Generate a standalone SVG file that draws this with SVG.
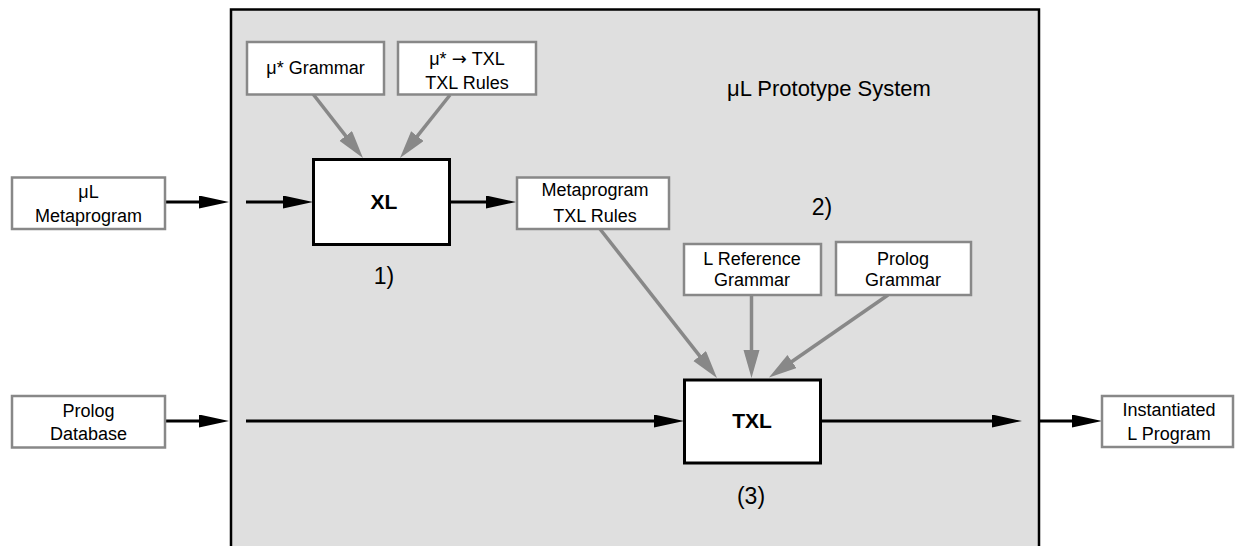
<svg xmlns="http://www.w3.org/2000/svg" width="1235" height="546" viewBox="0 0 1235 546">
<defs>
<style>
text{font-family:"Liberation Sans",Arial,sans-serif;fill:#000;text-anchor:middle}
.t{font-size:18px}
.b{font-size:21px;font-weight:bold}
.lbl{font-size:23px}
.arr{font-family:"DejaVu Sans",sans-serif}
.gbox{fill:#fff;stroke:#888;stroke-width:2.5}
.kbox{fill:#fff;stroke:#000;stroke-width:3}
.k{stroke:#000;stroke-width:3;fill:none}
.g{stroke:#888;stroke-width:3.5;fill:none}
</style>
<marker id="ak" markerUnits="userSpaceOnUse" markerWidth="31" markerHeight="14" refX="20" refY="6.5" orient="auto"><path d="M0,0 L30,6.5 L0,13 z" fill="#000"/></marker>
<marker id="ag" markerUnits="userSpaceOnUse" markerWidth="29" markerHeight="17" refX="18" refY="8" orient="auto"><path d="M0,0 L28,8 L0,16 z" fill="#888"/></marker>
</defs>
<rect id="system" x="231" y="9.5" width="808" height="560" fill="#dfdfdf" stroke="#000" stroke-width="2.5"/>
<text x="829" y="96" style="font-size:22px">μL Prototype System</text>
<text class="lbl" x="384" y="284">1)</text>
<text class="lbl" x="822" y="215">2)</text>
<text class="lbl" x="751" y="504">(3)</text>
<g id="connectors">
<line class="k" x1="165" y1="202" x2="219" y2="202" marker-end="url(#ak)"/>
<line class="k" x1="246" y1="202" x2="303" y2="202" marker-end="url(#ak)"/>
<line class="k" x1="450" y1="202" x2="506" y2="202" marker-end="url(#ak)"/>
<line class="g" x1="313" y1="94" x2="356.8" y2="150.1" marker-end="url(#ag)"/>
<line class="g" x1="450" y1="95" x2="406.2" y2="150.2" marker-end="url(#ag)"/>
<line class="g" x1="600" y1="229" x2="710.8" y2="370.1" marker-end="url(#ag)"/>
<line class="g" x1="751.5" y1="295" x2="751.5" y2="368" marker-end="url(#ag)"/>
<line class="g" x1="888" y1="295" x2="777.2" y2="371.7" marker-end="url(#ag)"/>
<line class="k" x1="165" y1="421" x2="219" y2="421" marker-end="url(#ak)"/>
<line class="k" x1="246" y1="421" x2="674" y2="421" marker-end="url(#ak)"/>
<line class="k" x1="816" y1="421" x2="1012" y2="421" marker-end="url(#ak)"/>
<line class="k" x1="1040" y1="421" x2="1092" y2="421" marker-end="url(#ak)"/>
</g>
<g id="mul-metaprogram">
<rect class="gbox" x="12" y="177.5" width="153" height="51.5"/>
<text class="t" x="88.5" y="198">μL</text>
<text class="t" x="88.5" y="222">Metaprogram</text>
</g>
<g id="prolog-database">
<rect class="gbox" x="12" y="396" width="153" height="51.5"/>
<text class="t" x="88.5" y="417">Prolog</text>
<text class="t" x="88.5" y="440">Database</text>
</g>
<g id="mu-grammar">
<rect class="gbox" x="247" y="42" width="137" height="52.5"/>
<text class="t" x="315.5" y="73.5">μ* Grammar</text>
</g>
<g id="mu-txl-rules">
<rect class="gbox" x="398" y="42" width="138" height="52.5"/>
<text class="t" x="467" y="65">μ* <tspan class="arr">→</tspan> TXL</text>
<text class="t" x="467" y="88.5">TXL Rules</text>
</g>
<g id="xl">
<rect class="kbox" x="313.5" y="159.5" width="136" height="85"/>
<text class="b" x="384" y="209">XL</text>
</g>
<g id="metaprogram-txl-rules">
<rect class="gbox" x="517" y="177.5" width="152" height="51.5"/>
<text class="t" x="595" y="196">Metaprogram</text>
<text class="t" x="595" y="221.5">TXL Rules</text>
</g>
<g id="l-reference-grammar">
<rect class="gbox" x="684" y="244" width="137" height="51"/>
<text class="t" x="752" y="264.5">L Reference</text>
<text class="t" x="752" y="286">Grammar</text>
</g>
<g id="prolog-grammar">
<rect class="gbox" x="836" y="242" width="135" height="53"/>
<text class="t" x="903" y="264.5">Prolog</text>
<text class="t" x="903" y="286">Grammar</text>
</g>
<g id="txl">
<rect class="kbox" x="684.5" y="380" width="136" height="83"/>
<text class="b" x="752" y="428">TXL</text>
</g>
<g id="instantiated-l-program">
<rect class="gbox" x="1102" y="396" width="131" height="51"/>
<text class="t" x="1169" y="416">Instantiated</text>
<text class="t" x="1169" y="440">L Program</text>
</g>
</svg>
